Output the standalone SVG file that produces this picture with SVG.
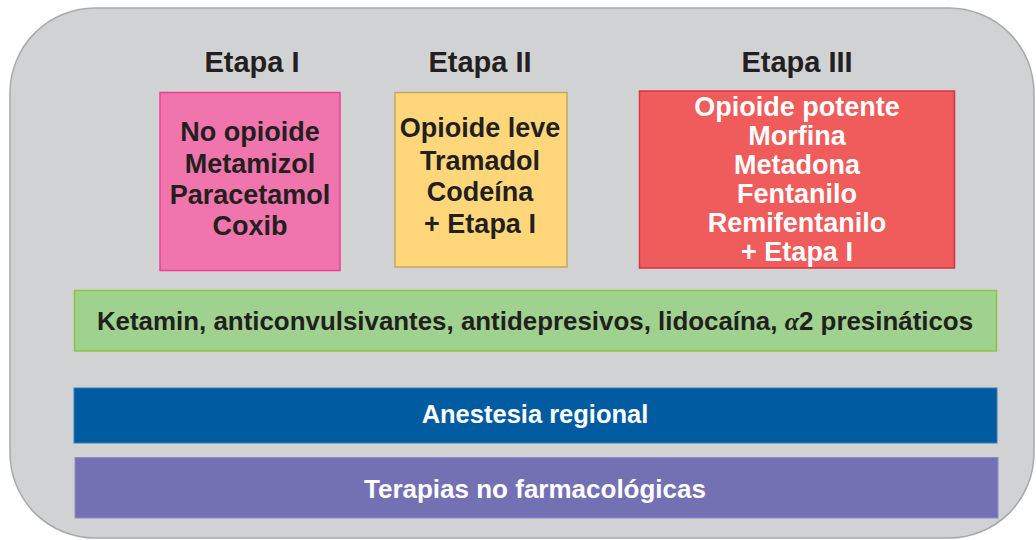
<svg xmlns="http://www.w3.org/2000/svg" width="1036" height="540" viewBox="0 0 1036 540">
<style>
text{font-family:"Liberation Sans",Arial,sans-serif;font-weight:bold;text-anchor:middle}
.dk{fill:#231F20}
.wt{fill:#FFFFFF}
.t{font-size:29px}
.b{font-size:27px}
.g{font-size:25.9px}
.r{font-size:25.5px}
.p{font-size:26px}
</style>
<rect x="10" y="8" width="1024" height="530" rx="85" ry="85" fill="#D1D2D4" stroke="#A7A9AC" stroke-width="1.5"/>
<g id="titles">
<text class="dk t" x="252" y="72">Etapa I</text>
<text class="dk t" x="480" y="72">Etapa II</text>
<text class="dk t" x="797" y="72">Etapa III</text>
</g>
<g id="etapa1">
<rect x="160" y="92.5" width="180" height="178" fill="#F075AC" stroke="#EC3F93" stroke-width="1.5"/>
<text class="dk b" x="250" y="141">No opioide</text>
<text class="dk b" x="250" y="173">Metamizol</text>
<text class="dk b" x="250" y="204">Paracetamol</text>
<text class="dk b" x="250" y="235">Coxib</text>
</g>
<g id="etapa2">
<rect x="395" y="92.5" width="172" height="174.5" fill="#FFD77A" stroke="#C9A464" stroke-width="1.5"/>
<text class="dk b" x="480" y="137">Opioide leve</text>
<text class="dk b" x="480" y="170">Tramadol</text>
<text class="dk b" x="480" y="201">Codeína</text>
<text class="dk b" x="480" y="233">+ Etapa I</text>
</g>
<g id="etapa3">
<rect x="639.5" y="91" width="315" height="177" fill="#F05B5B" stroke="#D23442" stroke-width="1.5"/>
<text class="wt b" x="797" y="116">Opioide potente</text>
<text class="wt b" x="797" y="145">Morfina</text>
<text class="wt b" x="797" y="174">Metadona</text>
<text class="wt b" x="797" y="203">Fentanilo</text>
<text class="wt b" x="797" y="232">Remifentanilo</text>
<text class="wt b" x="797" y="261">+ Etapa I</text>
</g>
<g id="adyuvantes">
<rect x="74.5" y="290.5" width="922" height="60.5" fill="#9FD18F" stroke="#8CC63F" stroke-width="1.5"/>
<text class="dk g" x="535" y="330">Ketamin, anticonvulsivantes, antidepresivos, lidocaína, <tspan font-family="'Liberation Serif',serif" font-style="italic" font-weight="bold">α</tspan>2 presináticos</text>
</g>
<g id="anestesia">
<rect x="74" y="388" width="923" height="55" fill="#005BA1" stroke="#3C7DB8" stroke-width="1"/>
<text class="wt r" x="535" y="423">Anestesia regional</text>
</g>
<g id="terapias">
<rect x="75" y="457.5" width="923" height="60.5" fill="#7470B4" stroke="#8E8CC4" stroke-width="1"/>
<text class="wt p" x="535" y="498">Terapias no farmacológicas</text>
</g>
<g id="connectors"/>
</svg>
